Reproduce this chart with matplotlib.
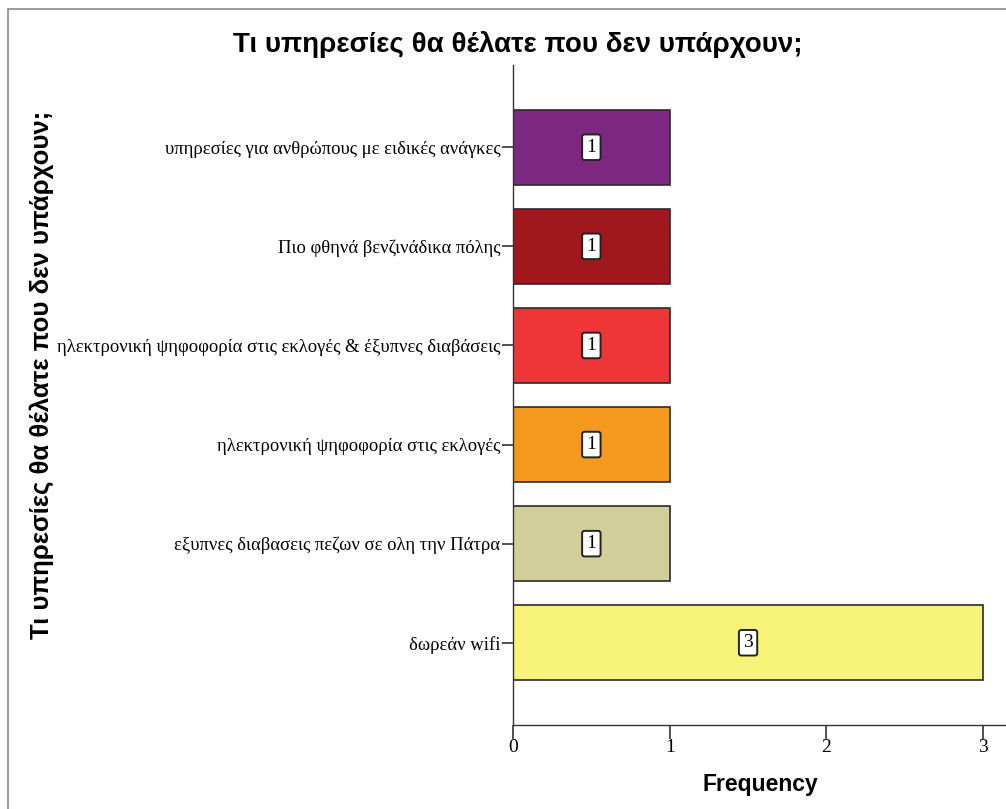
import matplotlib.pyplot as plt
from matplotlib.patches import Rectangle

# Data (bottom to top)
categories = ['δωρεάν wifi',
              'εξυπνες διαβασεις πεζων σε ολη την Πάτρα',
              'ηλεκτρονική ψηφοφορία στις εκλογές',
              'ηλεκτρονική ψηφοφορία στις εκλογές & έξυπνες διαβάσεις',
              'Πιο φθηνά βενζινάδικα πόλης',
              'υπηρεσίες για ανθρώπους με ειδικές ανάγκες']
counts = [3, 1, 1, 1, 1, 1]
colors = ['#F7F479', '#D2CE9A', '#F4981E', '#EE3538', '#A0181C', '#7C2880']
xticks = [0, 1, 2, 3]

title = 'Τι υπηρεσίες θα θέλατε που δεν υπάρχουν;'

fig = plt.figure(figsize=(10.06, 8.09), dpi=100)

# grey frame around the chart (SPSS output style)
fig.patches.append(Rectangle((8 / 1006, -0.01), 1.02, 1 - 9 / 809 + 0.01,
                             transform=fig.transFigure, fill=False,
                             edgecolor='#8a8a8a', linewidth=1.2))

ax = fig.add_axes([513 / 1006, 84 / 809, 493 / 1006, 660 / 809])

ypos = list(range(len(categories)))
ax.barh(ypos, counts, height=0.76, color=colors, edgecolor='#2b2b2b', linewidth=1.2)

for y, c in zip(ypos, counts):
    ax.text(c / 2, y, str(c), ha='center', va='center', family='Liberation Serif',
            fontsize=14,
            bbox=dict(boxstyle='round,pad=0.22,rounding_size=0.12', fc='white',
                      ec='#222222', lw=1.4))

ax.set_xlim(0, 3.146)
ax.set_ylim(-0.83, 5.83)
ax.set_yticks(ypos)
ax.set_yticklabels(categories, family='Liberation Serif', fontsize=13.4)
ax.set_xticks(xticks)
ax.set_xticklabels([str(t) for t in xticks], family='Liberation Serif', fontsize=14)

ax.spines['top'].set_visible(False)
ax.spines['right'].set_visible(False)
for s in ['left', 'bottom']:
    ax.spines[s].set_color('#333333')
    ax.spines[s].set_linewidth(1.0)
ax.tick_params(axis='y', direction='out', length=8, width=1.2, color='#333333', pad=1)
ax.tick_params(axis='x', direction='out', length=10, width=1.2, color='#333333', pad=0)

ax.set_xlabel('Frequency', family='Liberation Sans', fontsize=16.5, fontweight='bold')
ax.xaxis.set_label_coords((760 - 513) / 493, -0.072)

fig.text(518 / 1006, 1 - 45 / 809, title, ha='center', va='center',
         family='Liberation Sans', fontsize=20, fontweight='bold')
fig.text(42 / 1006, 1 - 375 / 809, title, ha='center', va='center', rotation=90,
         family='Liberation Sans', fontsize=18.5, fontweight='bold')

fig.savefig('out.png', dpi=100)
